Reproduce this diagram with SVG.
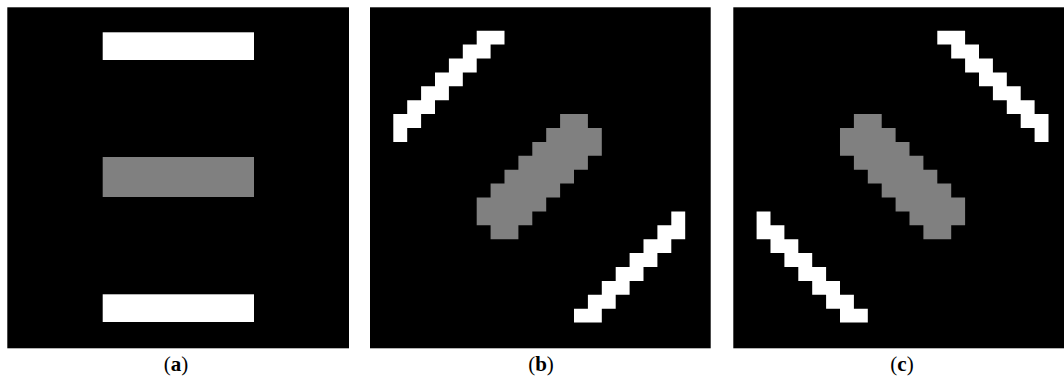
<svg xmlns="http://www.w3.org/2000/svg" xmlns:xlink="http://www.w3.org/1999/xlink" width="1064" height="376" viewBox="0 0 1064 376">
  <style>
    .bg { fill: #000000; }
    .w { fill: #ffffff; }
    .g { fill: #808080; }
    .lbl { font-family: "Liberation Serif", "Times New Roman", serif; font-size: 21px; fill: #000000; text-anchor: middle; }
    .b { font-weight: bold; }
  </style>
  <defs>
    <path id="stair" d="M6 0H8V1H7V2H6V3H5V4H4V5H3V6H2V7H1V8H0V6H1V5H2V4H3V3H4V2H5V1H6Z"/>
    <path id="bar" d="M12 6H14V7H15V9H14V10H13V11H12V12H11V13H10V14H9V15H7V14H6V12H7V11H8V10H9V9H10V8H11V7H12Z"/>
  </defs>
  <rect width="1064" height="376" fill="#ffffff"/>

  <g id="panel-a">
    <rect class="bg" x="7.3" y="7.3" width="341.7" height="341"/>
    <rect class="w" x="102.7" y="32.3" width="151.3" height="27.7"/>
    <rect class="g" x="102.7" y="157" width="151.3" height="40"/>
    <rect class="w" x="102.7" y="294.3" width="151.3" height="27.7"/>
    <text class="lbl" x="176" y="370.5">(<tspan class="b">a</tspan>)</text>
  </g>

  <g id="panel-b">
    <rect class="bg" x="370" y="7.3" width="340.7" height="341"/>
    <g transform="translate(393.3 30.7) scale(13.9)">
      <use xlink:href="#stair" class="w"/>
      <use xlink:href="#stair" class="w" transform="rotate(180 10.5 10.5)"/>
      <use xlink:href="#bar" class="g"/>
    </g>
    <text class="lbl" x="541" y="370.5">(<tspan class="b">b</tspan>)</text>
  </g>

  <g id="panel-c">
    <rect class="bg" x="733.3" y="7.3" width="330.7" height="341"/>
    <g transform="translate(756.6 322.6) scale(13.9 -13.9)">
      <use xlink:href="#stair" class="w"/>
      <use xlink:href="#stair" class="w" transform="rotate(180 10.5 10.5)"/>
      <use xlink:href="#bar" class="g"/>
    </g>
    <text class="lbl" x="902" y="370.5">(<tspan class="b">c</tspan>)</text>
  </g>
</svg>
